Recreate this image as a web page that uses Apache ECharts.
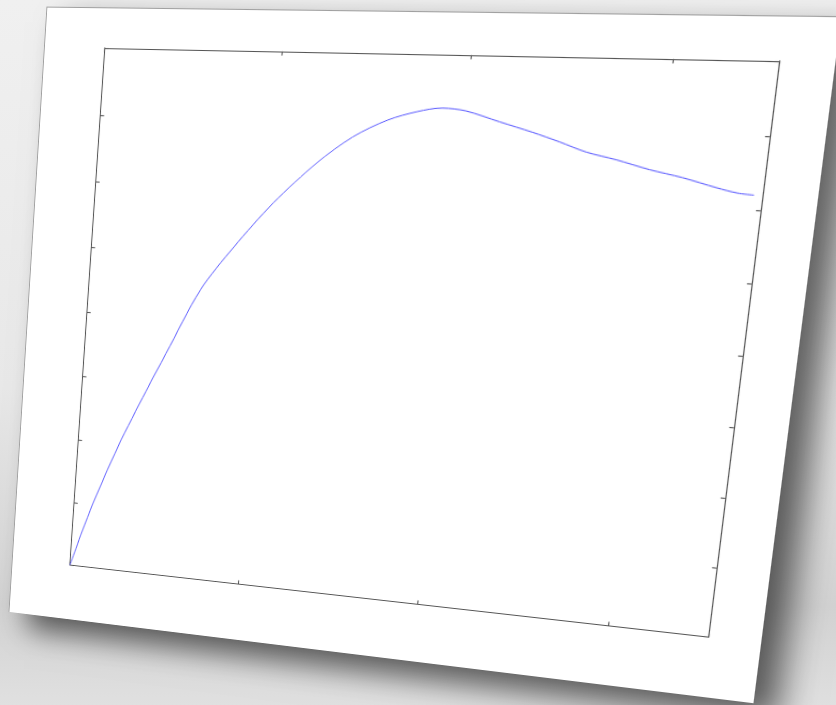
<!DOCTYPE html>
<html>
<head>
<meta charset="utf-8">
<script src="https://cdn.jsdelivr.net/npm/echarts@6/dist/echarts.min.js"></script>
<style>
  html, body { margin: 0; padding: 0; }
  body {
    width: 836px; height: 705px; overflow: hidden; position: relative;
    background: linear-gradient(180deg, #f0f0f0 0%, #e8e8e8 55%, #d2d2d2 86%, #e0e0e0 100%);
  }
  #sheet {
    position: absolute; left: 0; top: 0;
    background: #ffffff;
    transform-origin: 0 0;
    box-shadow: inset 1px 1px 0 #a0a0a0, 22px 16px 30px rgba(0,0,0,0.6);
  }
  #chart { position: absolute; left: 0; top: 0; }
</style>
</head>
<body>
<div id="sheet"><div id="chart"></div></div>
<script>
// Curve samples
const xValues = [0, 0.10, 0.24, 0.38, 0.48, 0.65, 0.82, 1.02, 1.24, 1.42, 1.60, 1.75, 1.88, 2.00,
                 2.18, 2.35, 2.49, 2.63, 2.78, 2.95, 3.11, 3.28, 3.38, 3.46];
const yValues = [0, 0.91, 1.96, 2.85, 3.45, 4.45, 5.12, 5.80, 6.41, 6.80, 7.06, 7.19, 7.25, 7.22,
                 7.08, 6.95, 6.83, 6.70, 6.61, 6.49, 6.40, 6.28, 6.22, 6.20];

// Axis ranges and tick spacing
const xRange = [0, 3.5];
const xStep = 1;
const yRange = [0, 8];
const yStep = 1;

// Page placement of the tilted sheet (corners: top-left, top-right, bottom-right, bottom-left)
const AXES_QUAD = [[105, 48], [779, 61], [708, 637], [70, 565]];
const SHEET_QUAD = [[47, 8], [841, 14.5], [754, 703], [8, 612]];
const W = 765, H = 645;

function squareToQuad(q) {
  const [x0, y0] = q[0], [x1, y1] = q[1], [x2, y2] = q[2], [x3, y3] = q[3];
  const dx1 = x1 - x2, dx2 = x3 - x2, dx3 = x0 - x1 + x2 - x3;
  const dy1 = y1 - y2, dy2 = y3 - y2, dy3 = y0 - y1 + y2 - y3;
  const den = dx1 * dy2 - dx2 * dy1;
  const g = (dx3 * dy2 - dx2 * dy3) / den;
  const h = (dx1 * dy3 - dx3 * dy1) / den;
  return [[x1 - x0 + g * x1, x3 - x0 + h * x3, x0],
          [y1 - y0 + g * y1, y3 - y0 + h * y3, y0],
          [g, h, 1]];
}
function invert3(m) {
  const [a, b, c] = m[0], [d, e, f] = m[1], [g, h, i] = m[2];
  const A = e * i - f * h, B = -(d * i - f * g), C = d * h - e * g;
  const det = a * A + b * B + c * C;
  return [[A / det, -(b * i - c * h) / det, (b * f - c * e) / det],
          [B / det, (a * i - c * g) / det, -(a * f - c * d) / det],
          [C / det, -(a * h - b * g) / det, (a * e - b * d) / det]];
}
function mul3(p, q) {
  const r = [[0, 0, 0], [0, 0, 0], [0, 0, 0]];
  for (let i = 0; i < 3; i++) for (let j = 0; j < 3; j++)
    for (let k = 0; k < 3; k++) r[i][j] += p[i][k] * q[k][j];
  return r;
}
function project(m, x, y) {
  const w = m[2][0] * x + m[2][1] * y + m[2][2];
  return [(m[0][0] * x + m[0][1] * y + m[0][2]) / w, (m[1][0] * x + m[1][1] * y + m[1][2]) / w];
}

const A = squareToQuad(AXES_QUAD);
const Ai = invert3(A);
const pc = SHEET_QUAD.map(p => project(Ai, p[0], p[1]));
const u0 = (pc[0][0] + pc[3][0]) / 2, u1 = (pc[1][0] + pc[2][0]) / 2;
const v0 = (pc[0][1] + pc[1][1]) / 2, v1 = (pc[2][1] + pc[3][1]) / 2;

const gridBox = {
  left: -u0 / (u1 - u0) * W,
  right: (u1 - 1) / (u1 - u0) * W,
  top: -v0 / (v1 - v0) * H,
  bottom: (v1 - 1) / (v1 - v0) * H
};

let M = mul3(A, [[(u1 - u0) / W, 0, u0], [0, (v1 - v0) / H, v0], [0, 0, 1]]);
const n = M[2][2];
M = M.map(r => r.map(v => v / n));

const sheet = document.getElementById('sheet');
sheet.style.width = W + 'px';
sheet.style.height = H + 'px';
sheet.style.transform = 'matrix3d(' + [
  M[0][0], M[1][0], 0, M[2][0],
  M[0][1], M[1][1], 0, M[2][1],
  0, 0, 1, 0,
  M[0][2], M[1][2], 0, M[2][2]
].join(',') + ')';

const chartEl = document.getElementById('chart');
chartEl.style.width = W + 'px';
chartEl.style.height = H + 'px';

const chart = echarts.init(chartEl, null, { renderer: 'canvas', width: W, height: H });

const boxLine = { show: true, onZero: false, lineStyle: { color: '#555555', width: 1.1 } };
const ticks = { show: true, inside: true, length: 4, lineStyle: { color: '#555555', width: 1.1 } };

function xAxisDef(pos) {
  return {
    type: 'value', position: pos, min: xRange[0], max: xRange[1], interval: xStep,
    axisLine: boxLine, axisTick: ticks, axisLabel: { show: false }, splitLine: { show: false }
  };
}
function yAxisDef(pos) {
  return {
    type: 'value', position: pos, min: yRange[0], max: yRange[1], interval: yStep,
    axisLine: boxLine, axisTick: ticks, axisLabel: { show: false }, splitLine: { show: false }
  };
}

chart.setOption({
  animation: false,
  backgroundColor: 'transparent',
  grid: Object.assign({ containLabel: false, outerBoundsMode: 'none' }, gridBox),
  xAxis: [xAxisDef('bottom'), xAxisDef('top')],
  yAxis: [yAxisDef('left'), yAxisDef('right')],
  series: [{
    type: 'line',
    xAxisIndex: 0, yAxisIndex: 0,
    data: xValues.map((x, i) => [x, yValues[i]]),
    showSymbol: false,
    smooth: 0.3,
    lineStyle: { color: '#5a5aff', width: 1 }
  }]
});
</script>
</body>
</html>
